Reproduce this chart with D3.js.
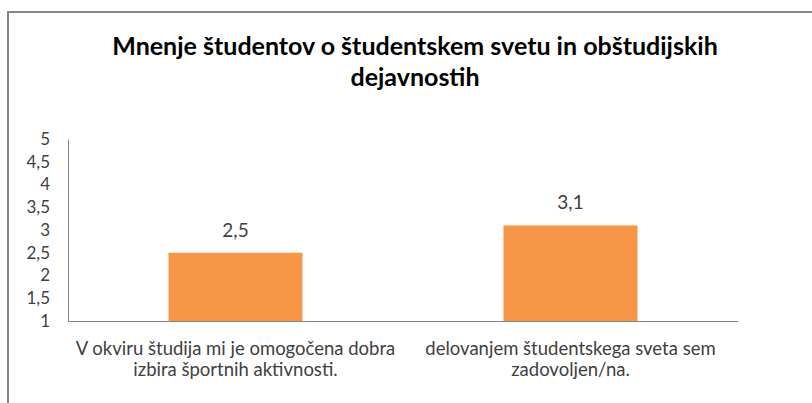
<!DOCTYPE html>
<html><head><meta charset="utf-8">
<script src="https://cdn.jsdelivr.net/npm/d3@7"></script>
<style>body{margin:0;background:#fff}svg{display:block}</style>
</head><body>
<script>
const title = ["Mnenje študentov o študentskem svetu in obštudijskih", "dejavnostih"];
const categories = [
  ["V okviru študija mi je omogočena dobra", "izbira športnih aktivnosti."],
  ["delovanjem študentskega sveta sem", "zadovoljen/na."]
];
const values = [2.5, 3.1];
const valueLabels = ["2,5", "3,1"];
const yTicks = [1, 1.5, 2, 2.5, 3, 3.5, 4, 4.5, 5];
const yTickLabels = ["1", "1,5", "2", "2,5", "3", "3,5", "4", "4,5", "5"];

const W = 812, H = 403;
const svg = d3.select("body").append("svg").attr("width", W).attr("height", H);
const font = "Lato, 'Open Sans', sans-serif";

// chart frame
svg.append("rect").attr("x", 8).attr("y", 12).attr("width", 820).attr("height", 420)
  .attr("fill", "#fff").attr("stroke", "#868686").attr("stroke-width", 2);

const m = {left: 68, right: 738, top: 139, bottom: 321};
const x = d3.scaleBand().domain(d3.range(values.length)).range([m.left, m.right]).paddingInner(0.6).paddingOuter(0.3);
const y = d3.scaleLinear().domain([1, 5]).range([m.bottom, m.top]);

// title
svg.append("text").attr("text-anchor", "middle").attr("font-family", font)
  .attr("font-weight", "bold").attr("font-size", 25).attr("fill", "#000")
  .selectAll("tspan").data(title).join("tspan")
  .attr("x", 415).attr("y", (d, i) => 55 + i * 31).text(d => d);

// y axis
const yAxis = d3.axisLeft(y).tickValues(yTicks).tickFormat((d, i) => yTickLabels[i]).tickSize(0).tickPadding(18);
const gy = svg.append("g").attr("transform", `translate(${m.left},0)`).call(yAxis);
gy.select(".domain").attr("stroke", "#868686");
gy.selectAll("text").attr("font-family", font).attr("font-size", 17).attr("fill", "#404040");

// bars
svg.selectAll("rect.bar").data(values).join("rect").attr("class", "bar")
  .attr("x", (d, i) => x(i)).attr("width", x.bandwidth())
  .attr("y", d => y(d)).attr("height", d => y(1) - y(d))
  .attr("fill", "#F79646");

// value labels
svg.selectAll("text.val").data(values).join("text").attr("class", "val")
  .attr("x", (d, i) => x(i) + x.bandwidth() / 2).attr("y", d => y(d) - 16)
  .attr("text-anchor", "middle").attr("font-family", font).attr("font-size", 19).attr("fill", "#404040")
  .text((d, i) => valueLabels[i]);

// x axis
const xAxis = d3.axisBottom(x).tickSize(0).tickFormat("");
const gx = svg.append("g").attr("transform", `translate(0,${m.bottom})`).call(xAxis);
gx.select(".domain").attr("stroke", "#868686");

// category labels
const band = (m.right - m.left) / categories.length;
categories.forEach((lines, i) => {
  svg.append("text").attr("text-anchor", "middle").attr("font-family", font)
    .attr("font-size", 18.5).attr("fill", "#404040")
    .selectAll("tspan").data(lines).join("tspan")
    .attr("x", m.left + band * (i + 0.5)).attr("y", (d, j) => 355 + j * 20.5).text(d => d);
});
</script>
</body></html>
